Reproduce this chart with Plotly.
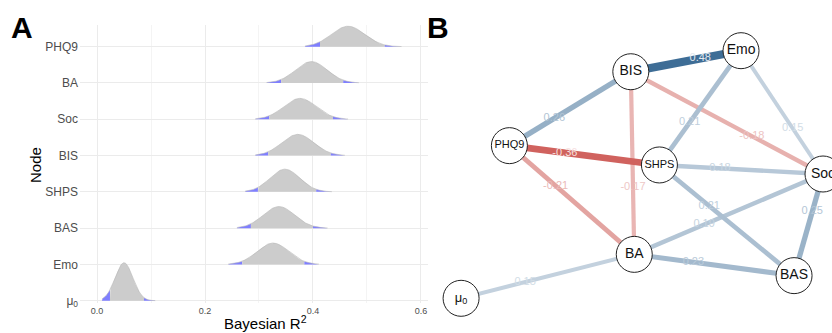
import numpy as np
import plotly.graph_objects as go

# ---------------- Panel A data (posterior Bayesian R^2 per node) ----------------
nodes_a = ["μ<sub>0</sub>", "Emo", "BAS", "SHPS", "BIS", "Soc", "BA", "PHQ9"]
r2_mean = [0.050, 0.326, 0.337, 0.348, 0.372, 0.376, 0.397, 0.465]
r2_sd = [0.0165, 0.0293, 0.0290, 0.0276, 0.0296, 0.0300, 0.0293, 0.0306]
ci_lo = [0.024, 0.269, 0.285, 0.298, 0.317, 0.319, 0.341, 0.413]
ci_hi = [0.087, 0.384, 0.400, 0.406, 0.433, 0.437, 0.456, 0.533]
tail_lo = [0.009, 0.243, 0.259, 0.274, 0.293, 0.293, 0.314, 0.385]
tail_hi = [0.108, 0.411, 0.427, 0.435, 0.459, 0.465, 0.485, 0.564]
x_ticks = [0.0, 0.2, 0.4, 0.6]
x_ticklabels = ["0.0", "0.2", "0.4", "0.6"]

# ---------------- Panel B data (network) ----------------
net_nodes = ["BIS", "Emo", "PHQ9", "SHPS", "Soc", "BA", "BAS", "μ0"]
net_labels = ["BIS", "Emo", "PHQ9", "SHPS", "Soc", "BA", "BAS", "μ<sub>0</sub>"]
net_label_size = [14, 14, 11, 11, 14, 14, 14, 13]
node_x = [-0.062, 0.547, -0.733, 0.096, 1.000, -0.043, 0.840, -1.000]
node_y = [0.830, 1.000, 0.233, 0.077, 0.004, -0.645, -0.817, -1.000]
edge_from = ["BIS", "BIS", "Emo", "BIS", "Emo", "SHPS", "Soc", "BA", "BIS", "BAS", "Soc", "BAS", "BAS", "BA"]
edge_to = ["Emo", "PHQ9", "SHPS", "Soc", "Soc", "PHQ9", "SHPS", "PHQ9", "BA", "SHPS", "BA", "Soc", "BA", "μ0"]
edge_w = [0.48, 0.26, 0.21, -0.18, 0.15, -0.36, 0.18, -0.21, -0.17, 0.21, 0.19, 0.25, 0.23, 0.15]

POS_BASE = (62, 109, 150)
NEG_BASE = (192, 46, 40)
MAXW = 0.48
LABEL_POS = 0.63


def mix(c, a):
    r, g, b = [int(round(a * v + (1 - a) * 255)) for v in c]
    return f"rgb({r},{g},{b})"


fig = go.Figure()

# ---------- Panel A ridges ----------
K = 0.0433  # row units per density unit
GRAY = "#cccccc"
BLUE = "#7f7fff"
for i in range(len(nodes_a)):
    base = i + 1
    m, s = r2_mean[i], r2_sd[i]

    def dens(x):
        return np.exp(-0.5 * ((x - m) / s) ** 2) / (s * np.sqrt(2 * np.pi))

    segs = [(tail_lo[i], ci_lo[i], BLUE), (ci_lo[i], ci_hi[i], GRAY), (ci_hi[i], tail_hi[i], BLUE)]
    for a, b, col in segs:
        xs = np.linspace(a, b, 80)
        ys = base + K * dens(xs)
        px = np.concatenate([[a], xs, [b]])
        py = np.concatenate([[base], ys, [base]])
        fig.add_trace(go.Scatter(x=px, y=py, mode="lines", fill="toself", fillcolor=col,
                                 line=dict(width=0), hoverinfo="skip", showlegend=False,
                                 xaxis="x", yaxis="y"))
    xs = np.linspace(tail_lo[i], tail_hi[i], 200)
    fig.add_trace(go.Scatter(x=xs, y=base + K * dens(xs), mode="lines",
                             line=dict(color="#b8b8b8", width=0.6), hoverinfo="skip",
                             showlegend=False, xaxis="x", yaxis="y"))

# ---------- Panel B network ----------
idx = {n: k for k, n in enumerate(net_nodes)}
order = sorted(range(len(edge_w)), key=lambda k: abs(edge_w[k]))
lab_x, lab_y, lab_t, lab_c = [], [], [], []
for k in order:
    w = edge_w[k]
    a = abs(w) / MAXW
    base = POS_BASE if w > 0 else NEG_BASE
    col = mix(base, a)
    i, j = idx[edge_from[k]], idx[edge_to[k]]
    fig.add_trace(go.Scatter(x=[node_x[i], node_x[j]], y=[node_y[i], node_y[j]], mode="lines",
                             line=dict(color=col, width=2 + 13 * abs(w)), hoverinfo="skip",
                             showlegend=False, xaxis="x2", yaxis="y2"))
    lab_x.append(node_x[i] + LABEL_POS * (node_x[j] - node_x[i]))
    lab_y.append(node_y[i] + LABEL_POS * (node_y[j] - node_y[i]))
    lab_t.append(f"{w:.2f}")
    lab_c.append(mix(base, a * 0.75) if a < 0.7 else mix(base, 0.15))

fig.add_trace(go.Scatter(x=lab_x, y=lab_y, mode="text", text=lab_t,
                         textfont=dict(family="Liberation Sans, Arial", size=11, color=lab_c),
                         hoverinfo="skip", showlegend=False, xaxis="x2", yaxis="y2"))

fig.add_trace(go.Scatter(x=node_x, y=node_y, mode="markers+text", text=net_labels,
                         textposition="middle center",
                         textfont=dict(family="Liberation Sans, Arial", size=net_label_size, color="#111111"),
                         marker=dict(size=36, color="white", line=dict(color="#222222", width=1)),
                         hoverinfo="skip", showlegend=False, xaxis="x2", yaxis="y2"))

W, H = 832, 333


def ann(text, x, y, size, color="black", angle=0):
    return dict(text=text, x=x / W, y=1 - y / H, xref="paper", yref="paper", showarrow=False,
                xanchor="center", yanchor="middle", textangle=angle,
                font=dict(size=size, color=color, family="Liberation Sans, Arial"))


fig.update_layout(
    width=W, height=H, margin=dict(l=0, r=0, t=0, b=0, autoexpand=False),
    paper_bgcolor="white", plot_bgcolor="rgba(0,0,0,0)",
    font=dict(family="Liberation Sans, Arial", color="#4d4d4d"),
    xaxis=dict(domain=[80 / W, 428 / W], range=[-0.0315, 0.613], tickvals=x_ticks,
               ticktext=x_ticklabels, tickfont=dict(size=9, color="#4d4d4d"),
               showgrid=True, gridcolor="#ebebeb", gridwidth=0.8, zeroline=False,
               showline=False, ticks="", ticklabelstandoff=1, automargin=False,
               minor=dict(dtick=0.1, tick0=0.1, showgrid=True, gridcolor="#f4f4f4", gridwidth=0.5)),
    yaxis=dict(domain=[1 - 303 / H, 1 - 25 / H], range=[0.937, 8.597],
               tickvals=list(range(1, len(nodes_a) + 1)), ticktext=nodes_a,
               tickfont=dict(size=12, color="#4d4d4d"), showgrid=True, gridcolor="#ebebeb",
               gridwidth=0.8, zeroline=False, showline=False, ticks="", ticklabelstandoff=1,
               automargin=False),
    xaxis2=dict(domain=[420 / W, 1], range=[-1.227, 1.0497], visible=False, automargin=False),
    yaxis2=dict(domain=[0, 1], range=[-1.2803, 1.4095], visible=False, anchor="x2", automargin=False),
    annotations=[
        ann("<b>A</b>", 21.5, 27, 30),
        ann("<b>B</b>", 437.5, 27, 30),
        ann("Node", 35, 165, 15, angle=-90),
        ann("Bayesian R<sup>2</sup>", 265, 322, 15),
    ],
)
fig.update_layout(xaxis2_anchor="y2")

fig.write_html("out.html", config={"displayModeBar": False},
               post_script="document.body.style.margin='0';document.body.style.padding='0';")
